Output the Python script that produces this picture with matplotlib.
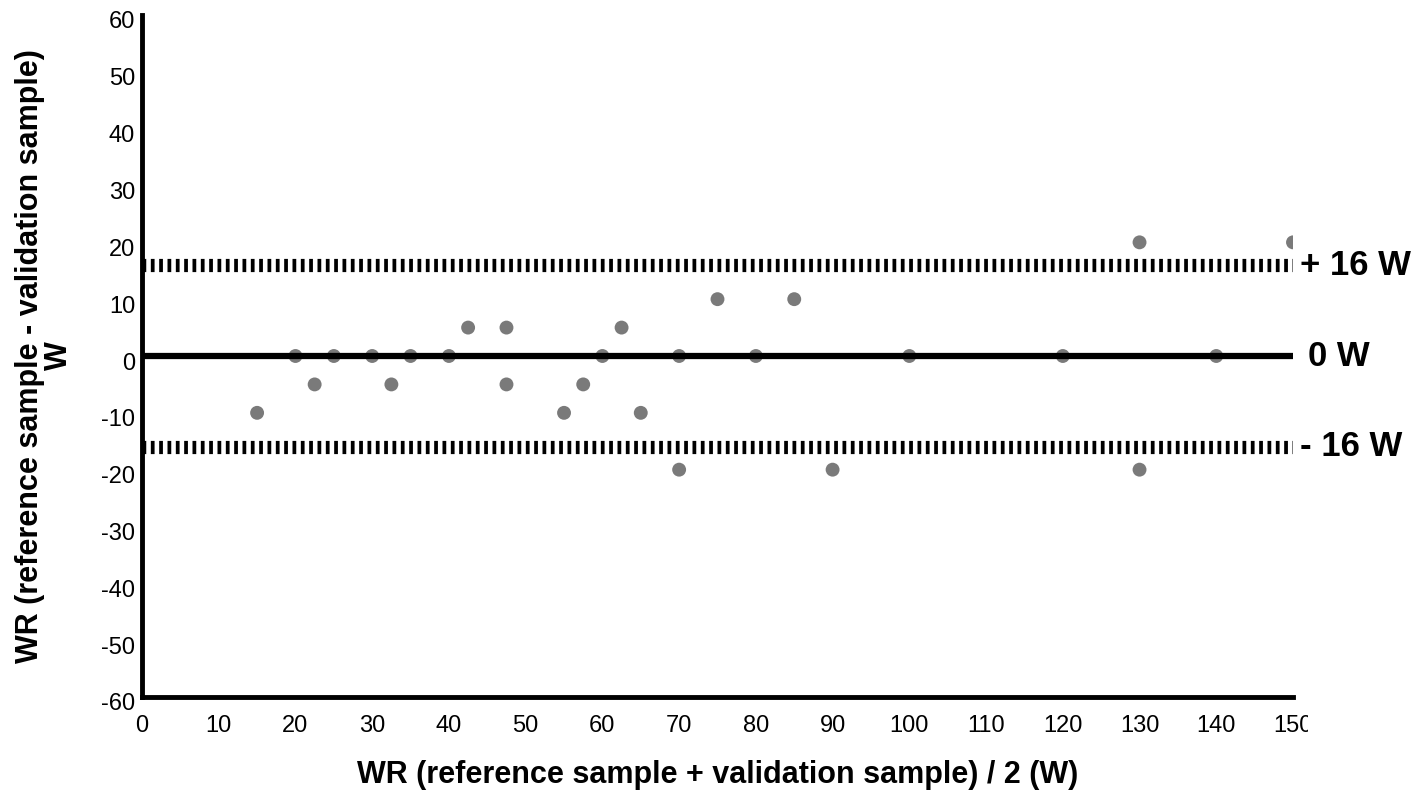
import matplotlib
matplotlib.use("Agg")
import matplotlib.pyplot as plt
from matplotlib.transforms import Bbox, TransformedBbox, ScaledTranslation

plt.rcParams['font.family'] = ['Liberation Sans', 'DejaVu Sans']
plt.rcParams['lines.scale_dashes'] = False
plt.rcParams['axes.unicode_minus'] = False

# ---- data ----
mean_wr = [15, 20, 22.5, 25, 30, 32.5, 35, 40, 42.5, 47.5, 47.5, 55, 57.5, 60,
           62.5, 65, 70, 70, 75, 80, 85, 90, 100, 120, 130, 130, 140, 150]
diff_wr = [-10, 0, -5, 0, 0, -5, 0, 0, 5, 5, -5, -10, -5, 0,
           5, -10, 0, -20, 10, 0, 10, -20, 0, 0, 20, -20, 0, 20]
bias = 0
loa_upper = 16
loa_lower = -16
line_labels = ["+ 16 W", "0 W", "- 16 W"]
x_ticks = list(range(0, 151, 10))
y_ticks = list(range(-60, 61, 10))
x_label = "WR (reference sample + validation sample) / 2 (W)"
y_label = "WR (reference sample - validation sample)\nW"

W, H = 1426, 797
fig = plt.figure(figsize=(W / 100, H / 100), dpi=100)
ax = fig.add_axes([142 / W, 1 - 697 / H, (1293 - 142) / W, (697 - 15) / H])

ax.scatter(mean_wr, diff_wr, s=100, color='#7a7a7a', edgecolors='none', zorder=2)

ax.axhline(bias, color='black', lw=4.5, zorder=3)
for v in (loa_upper, loa_lower):
    ax.axhline(v, color='black', lw=9.5, dashes=(2.7, 3.3), dash_capstyle='butt', zorder=3)

ax.set_xlim(0, 150)
ax.set_ylim(-60, 60)
ax.set_xticks(x_ticks)
ax.set_yticks(y_ticks)
ax.tick_params(length=0, labelsize=17, colors='black')
ax.tick_params(axis='y', pad=5)
ax.tick_params(axis='x', pad=13)

for side in ('top', 'right'):
    ax.spines[side].set_visible(False)
for side in ('left', 'bottom'):
    ax.spines[side].set_linewidth(3.5)
    ax.spines[side].set_color('black')
    ax.spines[side].set_capstyle('projecting')

ax.set_xlabel(x_label, fontsize=22, fontweight='bold')
ax.xaxis.set_label_coords(0.5, -(760 - 697) / 682)
ax.set_ylabel(y_label, fontsize=22, fontweight='bold', linespacing=0.95)
ax.yaxis.set_label_coords(-(142 - 74) / 1151, 0.5)

trans = ax.get_yaxis_transform()
for v, lab, xo in zip((loa_upper, bias, loa_lower), line_labels, (1.006, 1.013, 1.006)):
    ax.text(xo, v, lab, transform=trans, fontsize=25, fontweight='bold',
            ha='left', va='center', clip_on=False)

fig.canvas.draw()
# shift y tick labels slightly downward like the original
for lab in ax.get_yticklabels():
    lab.set_transform(lab.get_transform() + ScaledTranslation(0, -5 / 100, fig.dpi_scale_trans))
# clip the last x tick label at the right edge like the original
last = ax.get_xticklabels()[-1]
last.set_clip_on(True)
last.set_clip_box(TransformedBbox(Bbox.from_extents(0, 0, 1308 / W, 1), fig.transFigure))

fig.savefig('out.png', dpi=100)
